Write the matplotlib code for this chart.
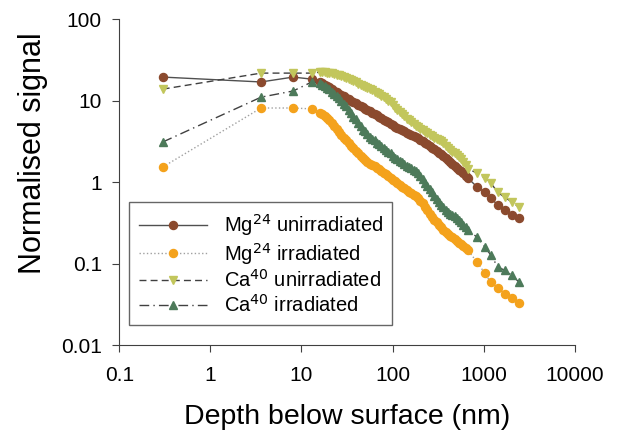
import matplotlib
matplotlib.use("Agg")
import matplotlib.pyplot as plt

plt.rcParams["font.family"] = ["Liberation Sans", "DejaVu Sans"]

# depth (nm): four shallow points, dense profile, then sparse deep points
depth = [0.3, 3.6, 8.1, 13,
         16, 17, 18, 19, 20,
         21.5, 23, 24.5, 26, 27.5,
         29, 31, 33, 35, 37,
         39.5, 42, 44.5, 47, 50,
         53, 56.5, 60, 63.5, 67,
         71, 75, 80, 85, 90,
         95, 101, 107, 113, 120,
         127, 135, 143, 152, 161,
         170, 180, 190, 202, 215,
         227, 240, 255, 270, 287,
         305, 322, 340, 362, 385,
         407, 430, 455, 480, 510,
         540, 570, 600, 635, 670,
         850, 1030, 1200, 1430, 1700, 2050, 2450]

mg_unirr = [19.4, 16.9, 19.4, 18.3,
            16.8, 16.2, 15.6, 15.0, 14.5,
            13.8, 13.2, 12.6, 12.1, 11.7,
            11.3, 10.8, 10.4, 10.0, 9.7,
            9.3, 8.9, 8.6, 8.3, 7.9,
            7.6, 7.35, 7.1, 6.85, 6.6,
            6.35, 6.1, 5.85, 5.6, 5.4,
            5.2, 5.0, 4.8, 4.65, 4.5,
            4.35, 4.2, 4.05, 3.9, 3.78,
            3.65, 3.55, 3.45, 3.3, 3.15,
            3.02, 2.9, 2.78, 2.65, 2.52,
            2.4, 2.3, 2.2, 2.07, 1.95,
            1.85, 1.75, 1.66, 1.58, 1.50,
            1.42, 1.35, 1.28, 1.20, 1.12,
            0.87, 0.75, 0.64, 0.52, 0.45, 0.39, 0.36]

mg_irr = [1.53, 8.1, 8.1, 7.9,
          7.1, 6.8, 6.5, 6.1, 5.8,
          5.3, 4.9, 4.5, 4.1, 3.8,
          3.5, 3.25, 3.0, 2.8, 2.6,
          2.42, 2.25, 2.1, 1.98, 1.86,
          1.76, 1.69, 1.62, 1.56, 1.50,
          1.44, 1.38, 1.31, 1.25, 1.18,
          1.12, 1.07, 1.02, 0.97, 0.93,
          0.88, 0.84, 0.80, 0.76, 0.73,
          0.70, 0.67, 0.64, 0.59, 0.55,
          0.50, 0.46, 0.41, 0.37, 0.345,
          0.32, 0.30, 0.28, 0.262, 0.245,
          0.232, 0.22, 0.21, 0.20, 0.19,
          0.18, 0.172, 0.165, 0.155, 0.146,
          0.104, 0.076, 0.059, 0.050, 0.043, 0.038, 0.033]

ca_unirr = [13.8, 21.7, 21.7, 21.7,
            22.3, 22.3, 22.2, 22.0, 21.8,
            21.5, 21.2, 20.8, 20.4, 19.9,
            19.5, 18.9, 18.4, 17.8, 17.3,
            16.7, 16.1, 15.6, 15.2, 14.7,
            14.2, 13.7, 13.3, 12.8, 12.4,
            11.9, 11.5, 11.0, 10.5, 10.0,
            9.5, 8.8, 8.2, 7.7, 7.2,
            6.8, 6.4, 6.0, 5.7, 5.4,
            5.1, 4.9, 4.7, 4.5, 4.3,
            4.12, 3.95, 3.8, 3.65, 3.52,
            3.4, 3.28, 3.15, 2.98, 2.8,
            2.65, 2.5, 2.37, 2.25, 2.15,
            2.05, 1.9, 1.75, 1.6, 1.45,
            1.29, 1.12, 0.97, 0.75, 0.65, 0.57, 0.49]

ca_irr = [3.1, 11.0, 13.1, 16.9,
          16.2, 15.7, 15.0, 14.2, 13.7,
          12.8, 12.1, 11.5, 10.6, 10.0,
          9.2, 8.5, 7.7, 7.0, 6.3,
          5.9, 5.3, 4.9, 4.4, 4.2,
          3.9, 3.6, 3.4, 3.25, 3.05,
          2.9, 2.75, 2.6, 2.45, 2.35,
          2.25, 2.1, 2.0, 1.92, 1.82,
          1.74, 1.66, 1.58, 1.52, 1.47,
          1.42, 1.36, 1.30, 1.18, 1.08,
          0.98, 0.90, 0.82, 0.75, 0.68,
          0.62, 0.57, 0.53, 0.49, 0.46,
          0.43, 0.41, 0.395, 0.38, 0.36,
          0.34, 0.32, 0.30, 0.28, 0.26,
          0.21, 0.16, 0.127, 0.091, 0.083, 0.072, 0.059]

x_ticks = [0.1, 1, 10, 100, 1000, 10000]
x_labels = ["0.1", "1", "10", "100", "1000", "10000"]
y_ticks = [0.01, 0.1, 1, 10, 100]
y_labels = ["0.01", "0.1", "1", "10", "100"]

fig = plt.figure(figsize=(6.18, 4.32), dpi=100)
ax = fig.add_axes([0.193, 0.201, 0.737, 0.755])

ax.plot(depth, mg_unirr, color="#505050", lw=1.0, ls="-", marker="o",
        ms=5.8, mfc="#8b4a2e", mec="#8b4a2e", label="Mg$^{24}$ unirradiated")
ax.plot(depth, mg_irr, color="#a0a0a0", lw=1.0, ls=":", marker="o",
        ms=5.8, mfc="#f4a21c", mec="#f4a21c", label="Mg$^{24}$ irradiated")
ax.plot(depth, ca_unirr, color="#404040", lw=1.0, ls=(0, (5, 3)), marker="v",
        ms=6.2, mfc="#c2c65c", mec="#c2c65c", label="Ca$^{40}$ unirradiated")
ax.plot(depth, ca_irr, color="#404040", lw=1.0, ls=(0, (7, 3, 1, 3)), marker="^",
        ms=6.2, mfc="#4d7a5a", mec="#4d7a5a", label="Ca$^{40}$ irradiated")

ax.set_xscale("log")
ax.set_yscale("log")
ax.set_xlim(0.1, 10000)
ax.set_ylim(0.01, 100)
ax.set_xticks(x_ticks)
ax.set_xticklabels(x_labels)
ax.set_yticks(y_ticks)
ax.set_yticklabels(y_labels)
ax.minorticks_off()
ax.tick_params(labelsize=15, length=5, width=0.8, direction="out", color="#404040")
ax.tick_params(axis="x", pad=10)
ax.tick_params(axis="y", pad=7.5)

for side in ("top", "right"):
    ax.spines[side].set_visible(False)
for side in ("left", "bottom"):
    ax.spines[side].set_linewidth(0.8)
    ax.spines[side].set_color("#404040")

ax.set_xlabel("Depth below surface (nm)", fontsize=20.5, labelpad=14)
ax.set_ylabel("Normalised signal", fontsize=22)
ax.yaxis.set_label_coords(-0.156, 0.59)

leg = ax.legend(loc="lower left", bbox_to_anchor=(0.022, 0.061), borderaxespad=0,
                fontsize=14.5, frameon=True, fancybox=False, edgecolor="#404040",
                handlelength=3.4, handletextpad=0.8, labelspacing=0.13,
                borderpad=0.48, numpoints=1)
leg.get_frame().set_linewidth(1.0)

fig.savefig("out.png", dpi=100)
